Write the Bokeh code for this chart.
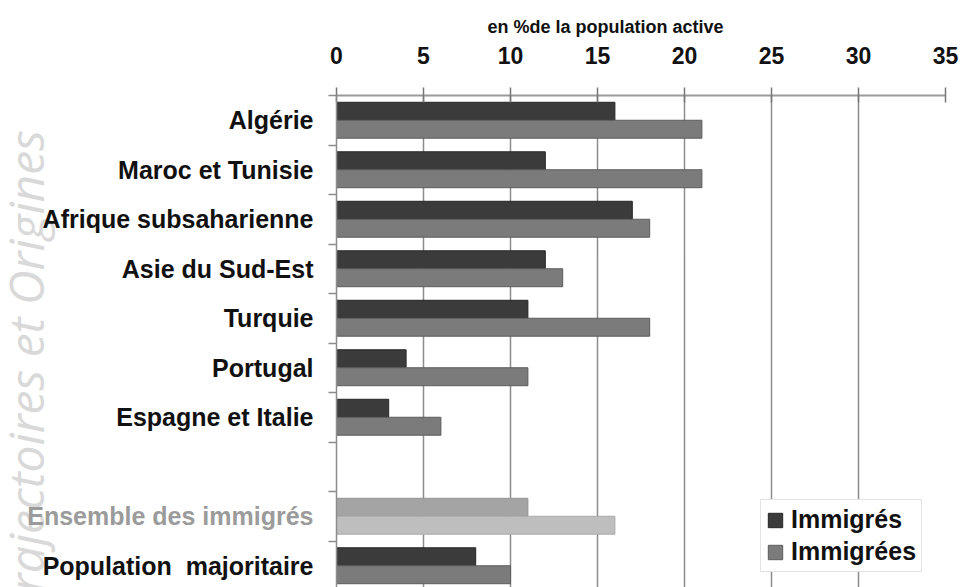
import numpy as np
from bokeh.plotting import figure
from bokeh.layouts import row
from bokeh.models import (Range1d, FixedTicker, ColumnDataSource,
                          Legend, LegendItem)
from bokeh.core.properties import value
from bokeh.embed import file_html
from bokeh.resources import INLINE

# ---------------- data ----------------
categories = ["Algérie", "Maroc et Tunisie", "Afrique subsaharienne",
              "Asie du Sud-Est", "Turquie", "Portugal", "Espagne et Italie",
              "", "Ensemble des immigrés", "Population\u00a0\u00a0majoritaire"]
immigres = [16, 12, 17, 12, 11, 4, 3, np.nan, 11, 8]
immigrees = [21, 21, 18, 13, 18, 11, 6, np.nan, 16, 10]
x_ticks = [0, 5, 10, 15, 20, 25, 30, 35]
series_names = ["Immigrés", "Immigrées"]
axis_title = "en %de la population active"
watermark = "Trajectoires et Origines"
highlight = "Ensemble des immigrés"

# ---------------- styling ----------------
DARK, LIGHT = "#3b3b3b", "#7b7b7b"
DARK_H, LIGHT_H = "#a4a4a4", "#bebebe"
FONT = "Liberation Sans"
TOP = 95
H = 587
LEFT_W = 316
RIGHT_W = 962 - LEFT_W

n = len(categories)
centers = np.arange(n) + 0.5
bar_h = 0.363
half = bar_h / 2
band_px = 49.5
y_range = Range1d((H - TOP) / band_px, 0)

dark_cols = [DARK_H if c == highlight else DARK for c in categories]
light_cols = [LIGHT_H if c == highlight else LIGHT for c in categories]
dark_line = ["#959595" if c == highlight else "#252525" for c in categories]
light_line = ["#aaaaaa" if c == highlight else "#5c5c5c" for c in categories]
label_cols = ["#9b9b9b" if c == highlight else "#111111" for c in categories]

src = ColumnDataSource(dict(
    y1=centers - half, y2=centers + half,
    v1=immigres, v2=immigrees,
    c1=dark_cols, c2=light_cols, l1=dark_line, l2=light_line,
))
lab_src = ColumnDataSource(dict(y=centers, text=categories, color=label_cols))

# ---------------- left panel: category labels + watermark ----------------
pl = figure(width=LEFT_W, height=H, output_backend="svg", toolbar_location=None,
            x_range=Range1d(0, LEFT_W), y_range=y_range,
            x_axis_type=None, y_axis_type=None,
            min_border_left=0, min_border_right=0,
            min_border_top=TOP, min_border_bottom=0)
pl.outline_line_color = None
pl.grid.grid_line_color = None

pl.text(x=25, y=[0.70], text=[watermark], angle=np.pi / 2,
        text_align="right", text_baseline="alphabetic",
        text_font=value("Open Sans"), text_font_style="italic",
        text_font_size="48px", text_color="#d9d9d9")
pl.text(x=LEFT_W - 3, y="y", text="text", source=lab_src,
        text_align="right", text_baseline="middle",
        text_font=value(FONT), text_font_style="bold",
        text_font_size="25px", text_color="color")

# ---------------- right panel: bars ----------------
p = figure(width=RIGHT_W, height=H, output_backend="svg", toolbar_location=None,
           x_range=Range1d(0, 35), y_range=y_range,
           x_axis_location="above", title=axis_title,
           min_border_left=20, min_border_right=17,
           min_border_top=TOP, min_border_bottom=0)
p.outline_line_color = None
p.title.align = "left"
p.title.offset = 151
p.title.standoff = 13
p.title.text_font = FONT
p.title.text_font_style = "bold"
p.title.text_font_size = "18px"
p.title.text_color = "#111111"

r1 = p.hbar(y="y1", right="v1", left=0, height=bar_h, source=src,
            fill_color="c1", line_color="l1", line_width=1)
r2 = p.hbar(y="y2", right="v2", left=0, height=bar_h, source=src,
            fill_color="c2", line_color="l2", line_width=1)

xa = p.xaxis[0]
xa.ticker = FixedTicker(ticks=x_ticks)
xa.axis_line_color = "#9a9a9a"
xa.axis_line_width = 2
xa.major_tick_in = 7
xa.major_tick_out = 8
xa.major_tick_line_color = "#777777"
xa.major_tick_line_width = 1.5
xa.minor_tick_line_color = None
xa.major_label_text_font = FONT
xa.major_label_text_font_style = "bold"
xa.major_label_text_font_size = "23px"
xa.major_label_text_color = "#111111"
xa.major_label_standoff = 24

p.xgrid.grid_line_color = "#8c8c8c"
p.xgrid.grid_line_width = 1.5
p.ygrid.grid_line_color = None

ya = p.yaxis[0]
ya.ticker = FixedTicker(ticks=list(centers), minor_ticks=list(range(n + 1)))
ya.major_label_overrides = {float(c): "" for c in centers}
ya.axis_line_color = "#8c8c8c"
ya.axis_line_width = 1.5
ya.major_tick_in = 0
ya.major_tick_out = 0
ya.minor_tick_in = 0
ya.minor_tick_out = 8
ya.minor_tick_line_color = "#8c8c8c"
ya.minor_tick_line_width = 1.5
ya.major_label_standoff = 0

legend = Legend(items=[LegendItem(label=series_names[0], renderers=[r1], index=0),
                       LegendItem(label=series_names[1], renderers=[r2], index=0)],
                location=(424, 15))
legend.label_text_font = FONT
legend.label_text_font_style = "bold"
legend.label_text_font_size = "25px"
legend.label_text_color = "#111111"
legend.glyph_height = 18
legend.glyph_width = 18
legend.label_height = 28
legend.label_standoff = 7
legend.spacing = 3
legend.padding = 5
legend.margin = 0
legend.border_line_color = "#c8c8c8"
legend.border_line_width = 1
legend.background_fill_alpha = 1
p.add_layout(legend)

layout = row(pl, p, spacing=0)
open("out.html", "w").write(file_html(layout, INLINE))
